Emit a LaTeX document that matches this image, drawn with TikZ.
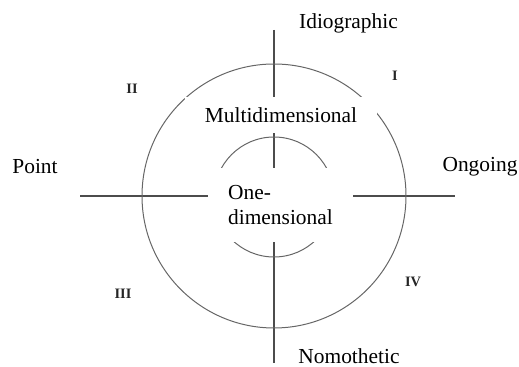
\documentclass[tikz,border=0pt]{standalone}
\usepackage{fontspec}
\setmainfont{Liberation Serif}
\begin{document}
\begin{tikzpicture}[x=0.5pt,y=-0.5pt,
  axis/.style={draw=black!70,line width=0.6pt},
  ring/.style={draw=black!60,line width=0.5pt},
  lbl/.style={inner sep=0pt,font=\fontsize{10.7}{12.5}\selectfont},
  cover/.style={fill=white,inner sep=0pt,font=\fontsize{10.7}{12.5}\selectfont},
  numeral/.style={inner sep=0pt,font=\fontsize{7.2}{8}\selectfont\bfseries,text=black!85}]
\useasboundingbox (0,0) rectangle (519,367);
% axis end points
\coordinate (top) at (274,30);
\coordinate (bot) at (274,363);
\coordinate (lft) at (80,196);
\coordinate (rgt) at (455,196);
\coordinate (c) at (274,196);
\coordinate (ci) at (274,197);
% axes
\draw[axis] (top) -- (bot);
\draw[axis] (lft) -- (rgt);
% circles
\draw[ring] (c) circle[radius=66pt];
\draw[ring] (ci) circle[radius=30pt];
% covering labels
\node[cover,minimum width=96pt,minimum height=18pt] (multi) at (281,115) {Multidimensional};
\node[cover,minimum width=72.5pt,minimum height=37pt,align=left] (one) at (280.5,205) {One-\\dimensional};
% outer labels
\node[lbl] (idio) at (348.5,23) {Idiographic};
\node[lbl] (point) at (35,167) {Point};
\node[lbl] (ongo) at (480,167) {Ongoing};
\node[lbl] (nomo) at (349,356) {Nomothetic};
% quadrant numerals
\node[numeral] (q1) at (395,76) {I};
\node[numeral] (q2) at (132,89) {II};
\node[numeral] (q3) at (123,294) {III};
\node[numeral] (q4) at (413,282) {IV};
\end{tikzpicture}
\end{document}
